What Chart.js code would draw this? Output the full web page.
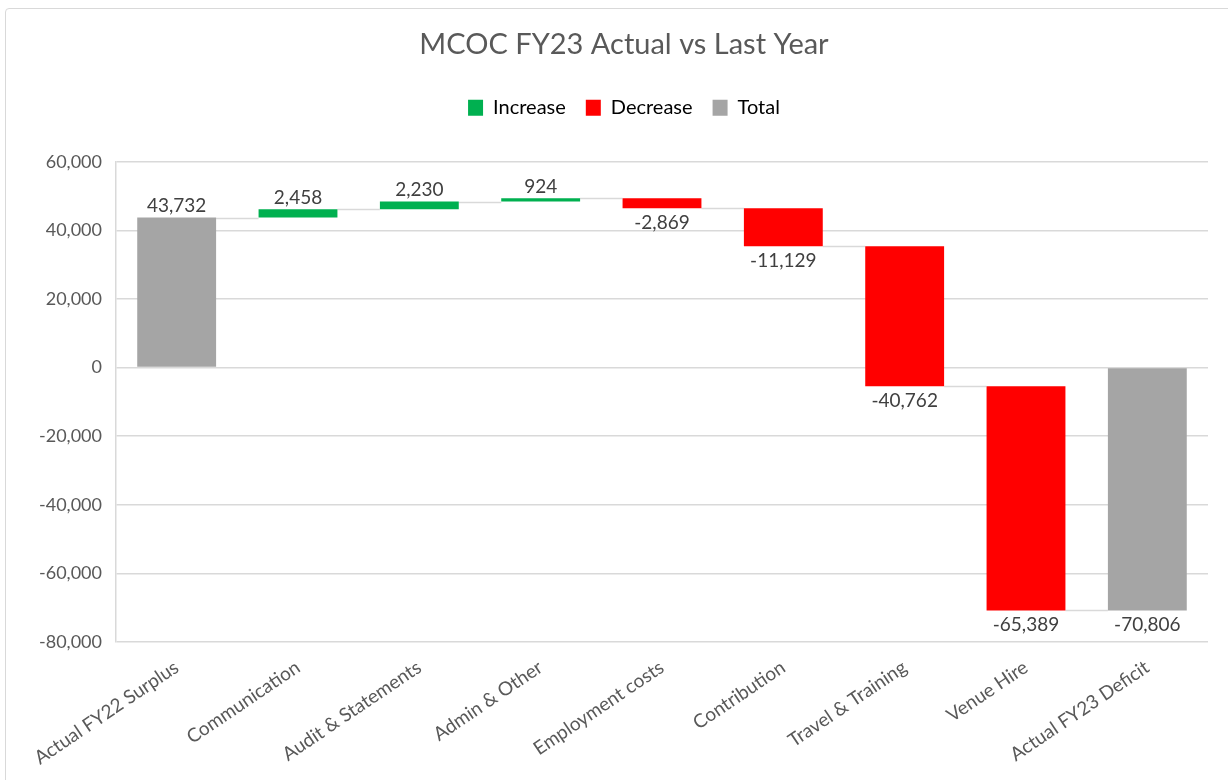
<!DOCTYPE html>
<html>
<head>
<meta charset="utf-8">
<script src="https://cdn.jsdelivr.net/npm/chart.js@4"></script>
<style>
  html, body { margin: 0; padding: 0; background: #fff; }
  #wrap { position: relative; width: 1228px; height: 780px; overflow: hidden; }
  #frame { position: absolute; left: 5px; top: 8px; width: 1240px; height: 790px; border: 1.5px solid #d9d9d9; border-radius: 4px; box-sizing: border-box; pointer-events: none; }
  canvas { position: absolute; left: 0; top: 0; }
</style>
</head>
<body>
<div id="wrap">
  <div id="frame"></div>
  <canvas id="c" width="1228" height="780"></canvas>
</div>
<script>
const chartTitle = 'MCOC FY23 Actual vs Last Year';
const categories = ['Actual FY22 Surplus', 'Communication', 'Audit & Statements', 'Admin & Other', 'Employment costs', 'Contribution', 'Travel & Training', 'Venue Hire', 'Actual FY23 Deficit'];
const changes = [43732, 2458, 2230, 924, -2869, -11129, -40762, -65389, -70806];
const kinds = ['total', 'increase', 'increase', 'increase', 'decrease', 'decrease', 'decrease', 'decrease', 'total'];
const legendLabels = ['Increase', 'Decrease', 'Total'];
const legendKinds = ['increase', 'decrease', 'total'];
const yTicks = [-80000, -60000, -40000, -20000, 0, 20000, 40000, 60000];

const colors = { increase: '#00b050', decrease: '#ff0000', total: '#a5a5a5' };
const FONT = 'Lato, "Open Sans", sans-serif';

// build floating ranges
const ranges = [];
let running = 0;
changes.forEach((v, i) => {
  if (kinds[i] === 'total') { ranges.push([0, v]); running = v; }
  else { ranges.push([running, running + v]); running += v; }
});
const fmt = v => v.toLocaleString('en-US');

const connectorPlugin = {
  id: 'connectors',
  beforeDatasetsDraw(chart) {
    const meta = chart.getDatasetMeta(0);
    const y = chart.scales.y;
    const ctx = chart.ctx;
    ctx.save();
    ctx.strokeStyle = '#d9d9d9';
    ctx.lineWidth = 1.5;
    for (let i = 0; i < ranges.length - 1; i++) {
      const b1 = meta.data[i], b2 = meta.data[i + 1];
      const level = ranges[i][1];
      const py = Math.round(y.getPixelForValue(level)) + 0.5;
      ctx.beginPath();
      ctx.moveTo(b1.x + b1.width / 2, py);
      ctx.lineTo(b2.x - b2.width / 2, py);
      ctx.stroke();
    }
    ctx.restore();
  }
};

const labelPlugin = {
  id: 'valueLabels',
  afterDatasetsDraw(chart) {
    const meta = chart.getDatasetMeta(0);
    const y = chart.scales.y;
    const ctx = chart.ctx;
    ctx.save();
    ctx.font = '19px ' + FONT;
    ctx.fillStyle = '#404040';
    ctx.textAlign = 'center';
    changes.forEach((v, i) => {
      const bar = meta.data[i];
      const hi = Math.max(ranges[i][0], ranges[i][1]);
      const lo = Math.min(ranges[i][0], ranges[i][1]);
      if (v >= 0) {
        ctx.textBaseline = 'bottom';
        ctx.fillText(fmt(v), bar.x, y.getPixelForValue(hi) - 2);
      } else {
        ctx.textBaseline = 'top';
        ctx.fillText(fmt(v), bar.x, y.getPixelForValue(lo) + 5);
      }
    });
    ctx.restore();
  }
};

const legendMargin = {
  id: 'legendMargin',
  beforeInit(chart) {
    const fit = chart.legend.fit;
    chart.legend.fit = function () { fit.bind(chart.legend)(); this.height += 34; };
  }
};

new Chart(document.getElementById('c'), {
  type: 'bar',
  data: {
    labels: categories,
    datasets: [{
      data: ranges,
      backgroundColor: kinds.map(k => colors[k]),
      borderWidth: 0,
      categoryPercentage: 0.65,
      barPercentage: 1.0
    }]
  },
  options: {
    responsive: false,
    animation: false,
    layout: { padding: { left: 40, right: 20, top: 8, bottom: 0 } },
    plugins: {
      title: {
        display: true,
        text: chartTitle,
        color: '#595959',
        font: { family: FONT, size: 29, weight: 'normal' },
        padding: { top: 19, bottom: 16 }
      },
      legend: {
        display: true,
        position: 'top',
        labels: {
          color: '#595959',
          font: { family: FONT, size: 20 },
          boxWidth: 15,
          boxHeight: 16,
          padding: 20,
          generateLabels: () => legendLabels.map((t, i) => ({
            text: t,
            fillStyle: colors[legendKinds[i]],
            strokeStyle: colors[legendKinds[i]],
            lineWidth: 0,
            hidden: false,
            datasetIndex: 0
          }))
        },
        onClick: () => {}
      },
      tooltip: { enabled: false }
    },
    scales: {
      x: {
        grid: { display: false },
        border: { display: false },
        ticks: {
          color: '#595959',
          font: { family: FONT, size: 19 },
          minRotation: 34,
          maxRotation: 34,
          autoSkip: false,
          padding: 6
        },
        afterFit(scale) { scale.height = 138; }
      },
      y: {
        min: -80000,
        max: 60000,
        afterBuildTicks(scale) { scale.ticks = yTicks.map(v => ({ value: v })); },
        grid: { color: '#d9d9d9', lineWidth: 1.5, drawTicks: false },
        border: { display: true, color: '#d9d9d9', width: 1.5 },
        ticks: {
          color: '#595959',
          font: { family: FONT, size: 18 },
          padding: 14,
          callback: v => fmt(v)
        },
        afterFit(scale) { scale.width = 76; }
      }
    }
  },
  plugins: [connectorPlugin, labelPlugin, legendMargin]
});
</script>
</body>
</html>
